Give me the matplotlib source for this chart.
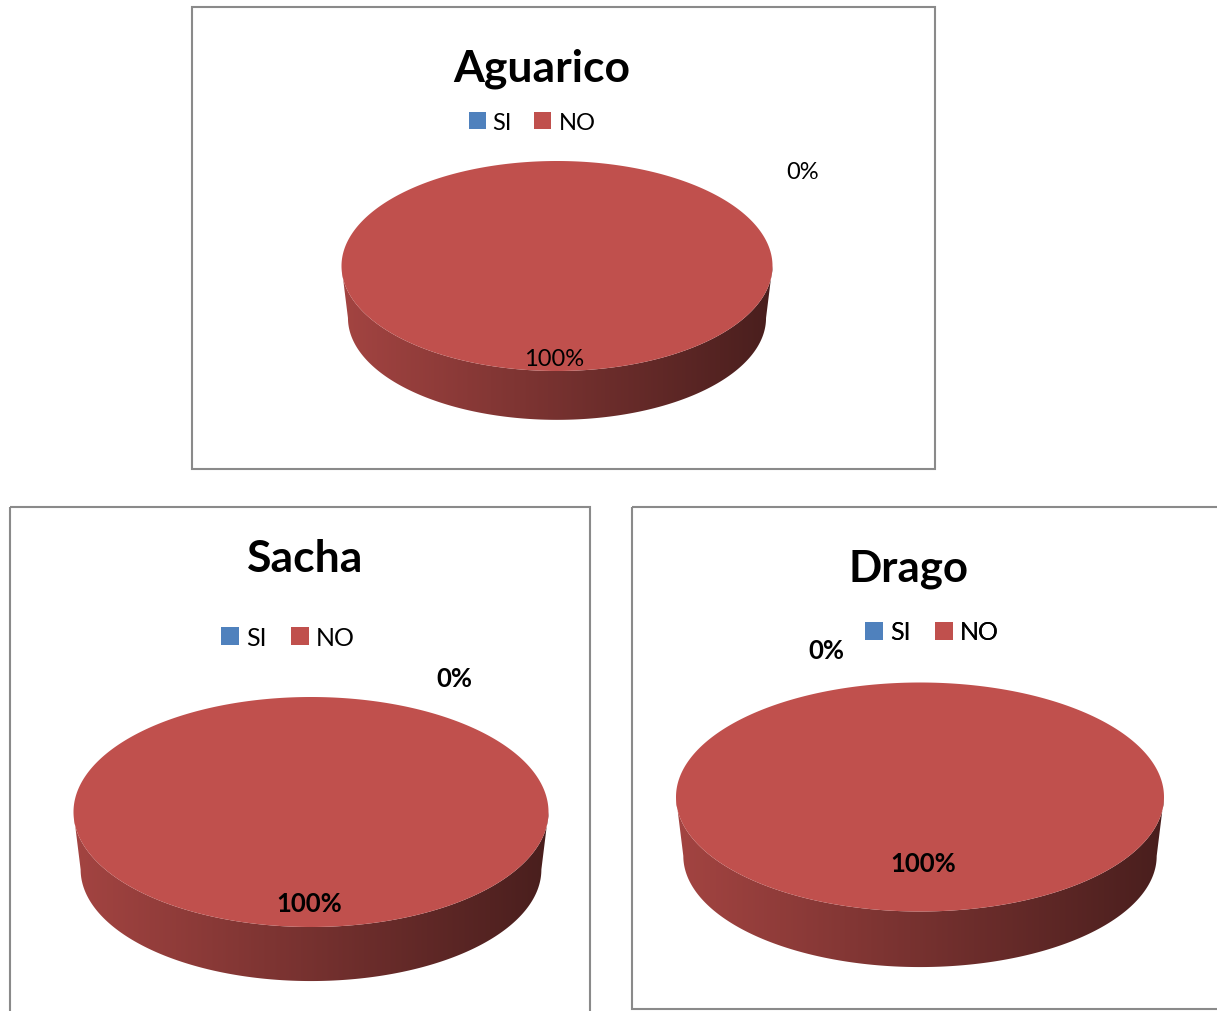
import numpy as np
import matplotlib
matplotlib.use("Agg")
import matplotlib.pyplot as plt
from matplotlib.patches import Polygon, Rectangle, Patch
from matplotlib.colors import LinearSegmentedColormap, to_rgb

plt.rcParams['font.family'] = ['Lato', 'DejaVu Sans']

# Datos de cada sector
categorias = ["SI", "NO"]
colores = ["#4F81BD", "#C0504D"]
aguarico = [0, 100]
sacha = [0, 100]
drago = [0, 100]

W, H = 1217, 1012
fig = plt.figure(figsize=(W / 100, H / 100), dpi=100)
ax = fig.add_axes([0, 0, 1, 1])
ax.axis("off")


def pastel_3d(ax, valores, cx, cy, rx, ry, prof, esc=0.97):
    total = sum(valores)
    ini = -np.pi / 2  # empieza arriba y gira en sentido horario
    partes = []
    for v, col in zip(valores, colores):
        fin = ini + 2 * np.pi * v / total
        partes.append((ini, fin, v, col))
        ini = fin
    # lado visible (mitad delantera) con degradado
    for a1, a2, v, col in partes:
        b1, b2 = max(a1, 0), min(a2, np.pi)
        if b2 <= b1:
            continue
        t = np.linspace(b1, b2, 300)
        arriba = np.c_[cx + rx * np.cos(t), cy + ry * np.sin(t)]
        tr = t[::-1]
        abajo = np.c_[cx + esc * rx * np.cos(tr), cy + prof + esc * ry * np.sin(tr)]
        poly = Polygon(np.r_[arriba, abajo], closed=True, fc="none", ec="none")
        ax.add_patch(poly)
        c = np.array(to_rgb(col))
        cmap = LinearSegmentedColormap.from_list("lado", [c * 0.85, c * 0.38])
        grad = np.linspace(0, 1, 256).reshape(1, -1)
        im = ax.imshow(grad, cmap=cmap, extent=(cx - rx, cx + rx, cy + prof + ry, cy - ry),
                       aspect="auto", interpolation="bilinear")
        im.set_clip_path(poly)
    # cara superior
    for a1, a2, v, col in partes:
        if v == 0:
            continue
        t = np.linspace(a1, a2, 400)
        pts = np.c_[cx + rx * np.cos(t), cy + ry * np.sin(t)]
        if v < total:
            pts = np.r_[[[cx, cy]], pts]
        ax.add_patch(Polygon(pts, closed=True, fc=col, ec="none"))


def leyenda(ax, x, y, tam):
    manijas = [Patch(facecolor=c, edgecolor="none", label=k) for k, c in zip(categorias, colores)]
    leg = ax.legend(handles=manijas, ncol=2, frameon=False, fontsize=tam,
                    handlelength=0.72, handleheight=0.72, handletextpad=0.3,
                    columnspacing=0.95, loc="center", bbox_to_anchor=(x, y),
                    bbox_transform=ax.transData, borderpad=0, borderaxespad=0)
    ax.add_artist(leg)


# marcos
marco = dict(fill=False, ec="#8A8A8A", lw=1.5)
ax.add_patch(Rectangle((192, 8), 743, 462, **marco))
ax.add_patch(Rectangle((10, 508), 580, 520, **marco))
ax.add_patch(Rectangle((632, 508), 600, 502, **marco))

# Aguarico
pastel_3d(ax, aguarico, 557, 267, 215.5, 105, 52)
ax.text(542, 69, "Aguarico", ha="center", va="center", fontsize=32, weight="bold")
leyenda(ax, 532, 123, 17)
ax.text(803, 172, f"{aguarico[0]}%", ha="center", va="center", fontsize=17)
ax.text(554, 359, f"{aguarico[1]}%", ha="center", va="center", fontsize=17)

# Sacha
pastel_3d(ax, sacha, 311, 813, 237.5, 115, 57.5)
ax.text(305, 559, "Sacha", ha="center", va="center", fontsize=32, weight="bold")
leyenda(ax, 288, 638, 18)
ax.text(454, 679, f"{sacha[0]}%", ha="center", va="center", fontsize=18.5, weight="bold")
ax.text(309, 904, f"{sacha[1]}%", ha="center", va="center", fontsize=18.5, weight="bold")

# Drago
pastel_3d(ax, drago, 920, 798, 244, 114.5, 59)
ax.text(908, 569, "Drago", ha="center", va="center", fontsize=31.5, weight="bold")
leyenda(ax, 932, 633, 18)
ax.text(826, 651, f"{drago[0]}%", ha="center", va="center", fontsize=18.5, weight="bold")
ax.text(923, 864, f"{drago[1]}%", ha="center", va="center", fontsize=18.5, weight="bold")

ax.set_xlim(0, W)
ax.set_ylim(H, 0)
fig.savefig("out.png", dpi=100)
